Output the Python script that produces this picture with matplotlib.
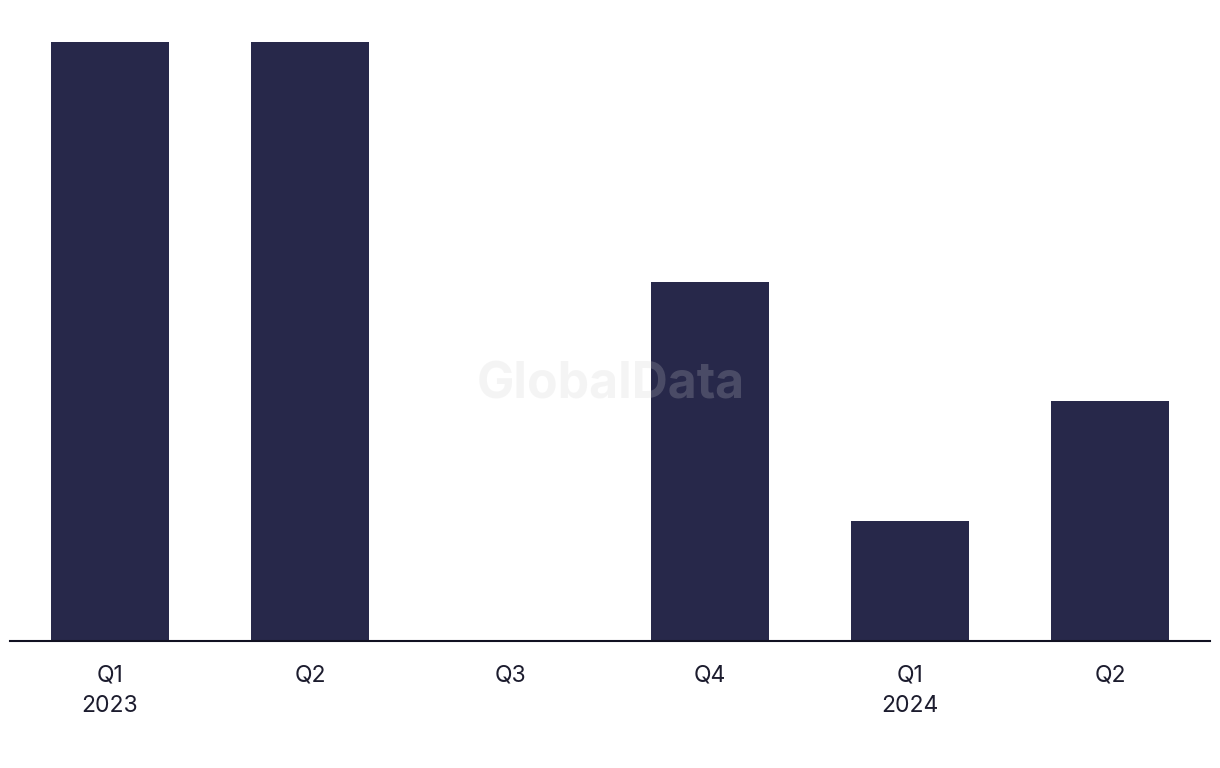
import matplotlib.pyplot as plt
import numpy as np

plt.rcParams['font.family'] = ['Inter', 'DejaVu Sans']

categories = ["Q1\n2023", "Q2", "Q3", "Q4", "Q1\n2024", "Q2"]
values = [5, 5, 0, 3, 1, 2]

barColor = '#27284a'
textColor = '#1c1c2e'

fig = plt.figure(figsize=(12.2, 7.68), dpi=100)
ax = fig.add_axes([10 / 1220, 1 - 641 / 768, 1200 / 1220, (641 - 42) / 768])

x = np.arange(len(categories))
ax.bar(x, values, width=0.59, color=barColor, zorder=2)

ax.set_xlim(-0.5, len(categories) - 0.5)
ax.set_ylim(0, 5)
ax.set_xticks(x)
ax.set_xticklabels(categories, fontsize=16.5, color=textColor, linespacing=1.5)
ax.tick_params(axis='x', length=0, pad=17)
ax.set_yticks([])

for side in ['top', 'right', 'left']:
    ax.spines[side].set_visible(False)
ax.spines['bottom'].set_color('#111122')
ax.spines['bottom'].set_linewidth(1.5)

# watermark
fig.text(611 / 1220, 1 - 385 / 768, 'GlobalData', fontsize=36, fontweight='bold',
         color='#cfcfcf', alpha=0.21, ha='center', va='center', zorder=5)

fig.savefig('out.png', dpi=100, facecolor='white')
